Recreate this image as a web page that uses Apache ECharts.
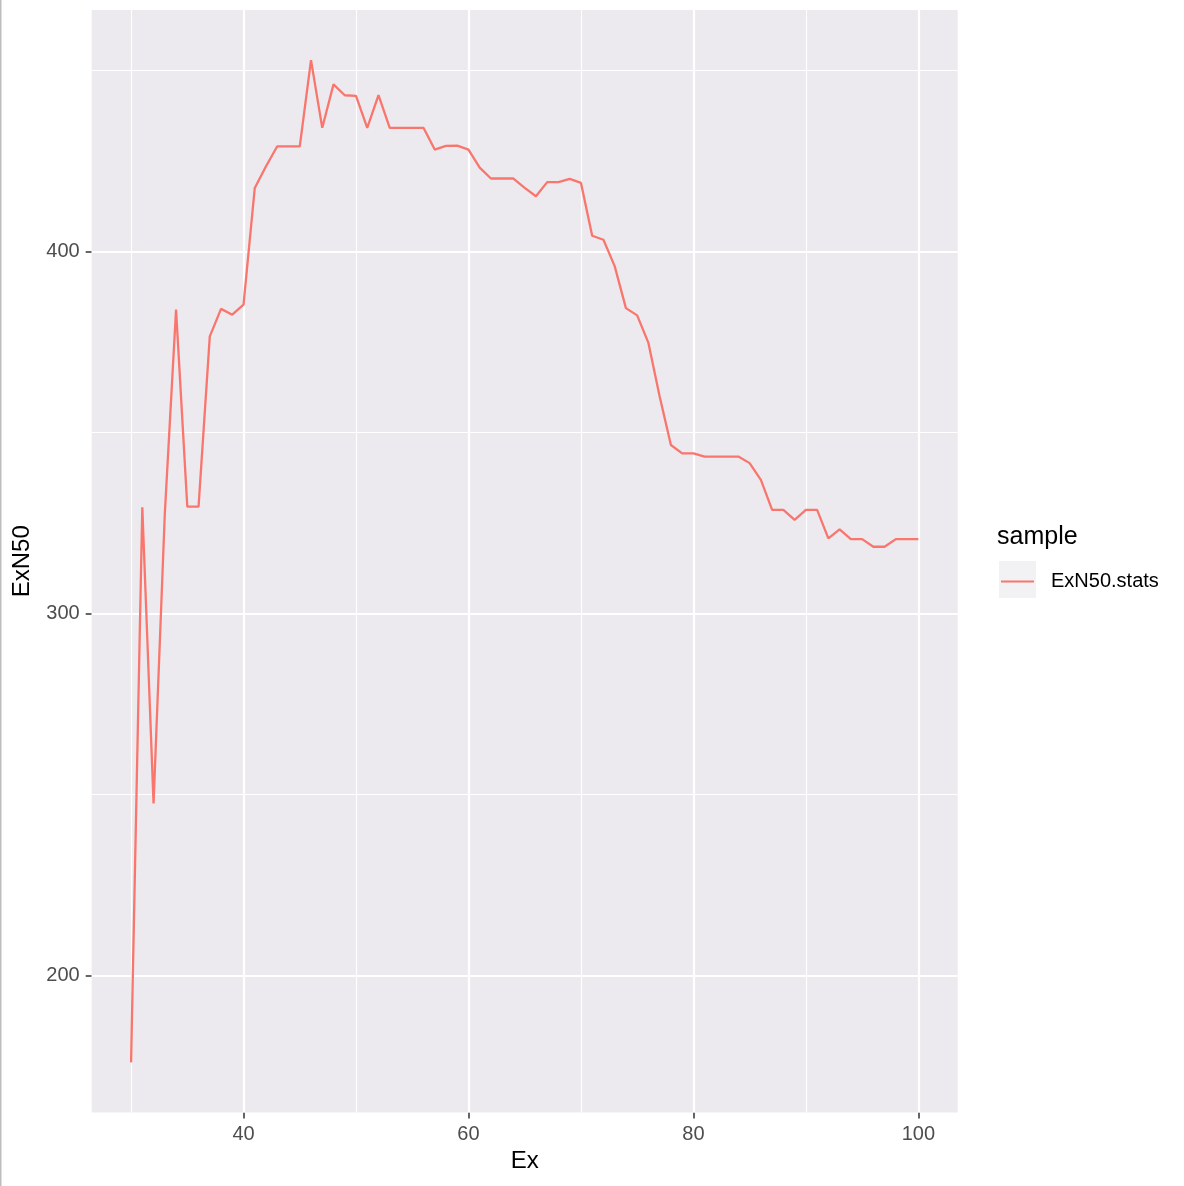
<!DOCTYPE html>
<html>
<head>
<meta charset="utf-8">
<script src="https://cdn.jsdelivr.net/npm/echarts@6/dist/echarts.min.js"></script>
<style>
html,body{margin:0;padding:0;background:#fff;}
#chart{width:1184px;height:1186px;}
</style>
</head>
<body>
<div id="chart"></div>
<script>
const ex = [30,31,32,33,34,35,36,37,38,39,40,41,42,43,44,45,46,47,48,49,50,
  51,52,53,54,55,56,57,58,59,60,61,62,63,64,65,66,67,68,69,70,
  71,72,73,74,75,76,77,78,79,80,81,82,83,84,85,86,87,88,89,90,
  91,92,93,94,95,96,97,98,99,100];
const exN50 = [176,329.3,247.5,327.5,383.9,329.5,329.5,376.5,384.1,382.5,385.3,
  417.5,423.5,429,429,429,452.8,434.1,446.1,443.1,442.9,
  434.1,443.1,434.1,434.1,434.1,434.1,428.1,429.1,429.2,428.1,
  423.1,420.1,420.1,420.1,417.5,415.2,419.1,419.1,420,418.9,
  404.3,403.2,395.9,384.3,382.3,374.7,359.9,346.5,344.2,344.2,
  343.3,343.3,343.3,343.3,341.5,336.9,328.6,328.6,325.8,328.6,
  328.6,320.7,323.2,320.5,320.5,318.4,318.4,320.5,320.5,320.5];
const seriesName = 'ExN50.stats';
const xMajor = [40,60,80,100];
const xMinor = [30,50,70,90];
const yMajor = [200,300,400];
const yMinor = [250,350,450];

const xLo = Math.min(...ex), xHi = Math.max(...ex);
const yLo = Math.min(...exN50), yHi = Math.max(...exN50);
const xPad = (xHi - xLo) * 0.05, yPad = (yHi - yLo) * 0.05;

const gridLines = [];
xMinor.forEach(v => gridLines.push({xAxis: v, lineStyle: {color:'#ffffff', width:1.1, type:'solid'}}));
xMajor.forEach(v => gridLines.push({xAxis: v, lineStyle: {color:'#ffffff', width:2.2, type:'solid'}}));
yMinor.forEach(v => gridLines.push({yAxis: v, lineStyle: {color:'#ffffff', width:1.1, type:'solid'}}));
yMajor.forEach(v => gridLines.push({yAxis: v, lineStyle: {color:'#ffffff', width:2.2, type:'solid'}}));

const chart = echarts.init(document.getElementById('chart'), null, {renderer:'canvas'});
const FONT = '"Liberation Sans", Arial, Helvetica, sans-serif';
chart.setOption({
  animation: false,
  textStyle: {fontFamily: FONT},
  grid: {left: 91.7, top: 10, width: 866, height: 1102.5, show: true,
         backgroundColor: '#ECEAEE', borderWidth: 0},
  xAxis: {
    type: 'value', min: xLo - xPad, max: xHi + xPad,
    axisLine: {show: false},
    axisTick: {show: true, customValues: xMajor, length: 6, lineStyle: {color:'#333333', width: 1.5}},
    axisLabel: {customValues: xMajor, color: '#4D4D4D', fontSize: 20, margin: 12, fontFamily: FONT},
    splitLine: {show: false},
    name: 'Ex', nameLocation: 'middle', nameGap: 37,
    nameTextStyle: {fontSize: 24, color: '#000', fontFamily: FONT}
  },
  yAxis: {
    type: 'value', min: yLo - yPad, max: yHi + yPad,
    axisLine: {show: false},
    axisTick: {show: true, customValues: yMajor, length: 6, lineStyle: {color:'#333333', width: 1.5}},
    axisLabel: {customValues: yMajor, color: '#4D4D4D', fontSize: 20, margin: 12, fontFamily: FONT},
    splitLine: {show: false},
    name: 'ExN50', nameLocation: 'middle', nameGap: 57,
    nameTextStyle: {fontSize: 24, color: '#000', fontFamily: FONT}
  },
  legend: {
    show: true, orient: 'vertical', left: 1001, top: 571.5, padding: 0,
    icon: 'rect', itemWidth: 33, itemHeight: 2,
    textStyle: {fontSize: 20, color: '#000', padding: [0,0,0,12], fontFamily: FONT},
    data: [seriesName], selectedMode: false
  },
  graphic: [
    {type: 'rect', left: 0, top: 0, shape: {width: 1.5, height: 1186}, style: {fill: '#BDBDBD'}, silent: true},
    {type: 'rect', left: 999, top: 561, shape: {width: 37, height: 37}, style: {fill: '#F2F1F4'}, silent: true, z: -1},
    {type: 'text', left: 997, top: 525, style: {text: 'sample', fontSize: 25, fill: '#000', fontFamily: FONT}, silent: true}
  ],
  series: [
    {
      type: 'line', name: '_grid', data: [], silent: true, z: 1,
      markLine: {silent: true, symbol: ['none','none'], label: {show: false}, z: 1,
                 animation: false, emphasis: {disabled: true}, data: gridLines}
    },
    {
      type: 'line', name: seriesName, z: 3,
      data: ex.map((x, i) => [x, exN50[i]]),
      showSymbol: false, symbol: 'none',
      lineStyle: {color: '#F8766D', width: 2.3},
      itemStyle: {color: '#F8766D'},
      emphasis: {disabled: true}
    }
  ]
});
</script>
</body>
</html>
